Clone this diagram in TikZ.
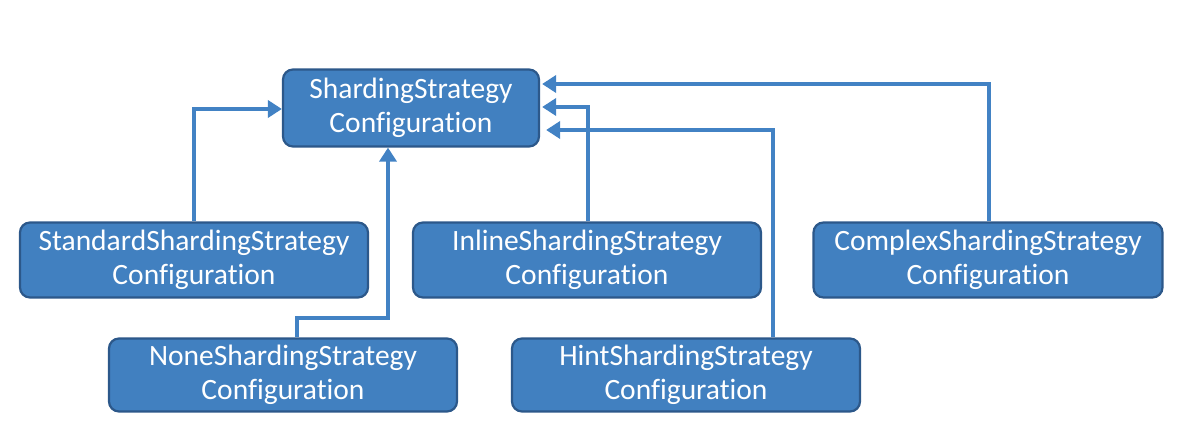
\documentclass[tikz,border=0pt]{standalone}
\usepackage{fontspec}
\setmainfont{Carlito}[Ligatures=NoCommon]
\definecolor{boxfill}{RGB}{65,128,192}
\definecolor{boxedge}{RGB}{44,88,138}
\definecolor{linkblue}{RGB}{66,130,196}
\tikzset{
  cfgbox/.style={draw=boxedge, fill=boxfill, line width=2.2pt, rounded corners=10pt,
    text=white, align=center, inner sep=0pt,
    font=\fontsize{29.5}{34}\selectfont},
  link/.style={draw=linkblue, line width=4pt, -{Triangle[length=14pt,width=17pt]}}
}
\usetikzlibrary{arrows.meta}
\begin{document}
\begin{tikzpicture}[x=1pt, y=-1pt]
    \useasboundingbox (0,0) rectangle (1177,446);

    % 顶层配置
    \node[cfgbox, minimum width=256pt, minimum height=77pt] (main) at (411,108)
        {ShardingStrategy\\Configuration};

    % 各分片策略配置
    \node[cfgbox, minimum width=348pt, minimum height=75pt] (standard) at (194,260)
        {StandardShardingStrategy\\Configuration};
    \node[cfgbox, minimum width=348pt, minimum height=75pt] (inline) at (587,260)
        {InlineShardingStrategy\\Configuration};
    \node[cfgbox, minimum width=349pt, minimum height=75pt] (complex) at (988,260)
        {ComplexShardingStrategy\\Configuration};
    \node[cfgbox, minimum width=348pt, minimum height=73pt] (none) at (283,375)
        {NoneShardingStrategy\\Configuration};
    \node[cfgbox, minimum width=348pt, minimum height=73pt] (hint) at (686,375)
        {HintShardingStrategy\\Configuration};

    % 连线
    \draw[link] (standard.north -| 194,0) |- (main.west |- 0,109);
    \draw[link] (none.north -| 297,0) -- (297,318) -- (388,318) -- (main.south -| 388,0);
    \draw[link] (inline.north -| 588,0) |- ([xshift=2pt]main.east |- 0,107);
    \draw[link] (hint.north -| 773,0) |- ([xshift=6pt]main.east |- 0,130);
    \draw[link] (complex.north -| 989,0) |- ([xshift=2pt]main.east |- 0,84);
\end{tikzpicture}
\end{document}
